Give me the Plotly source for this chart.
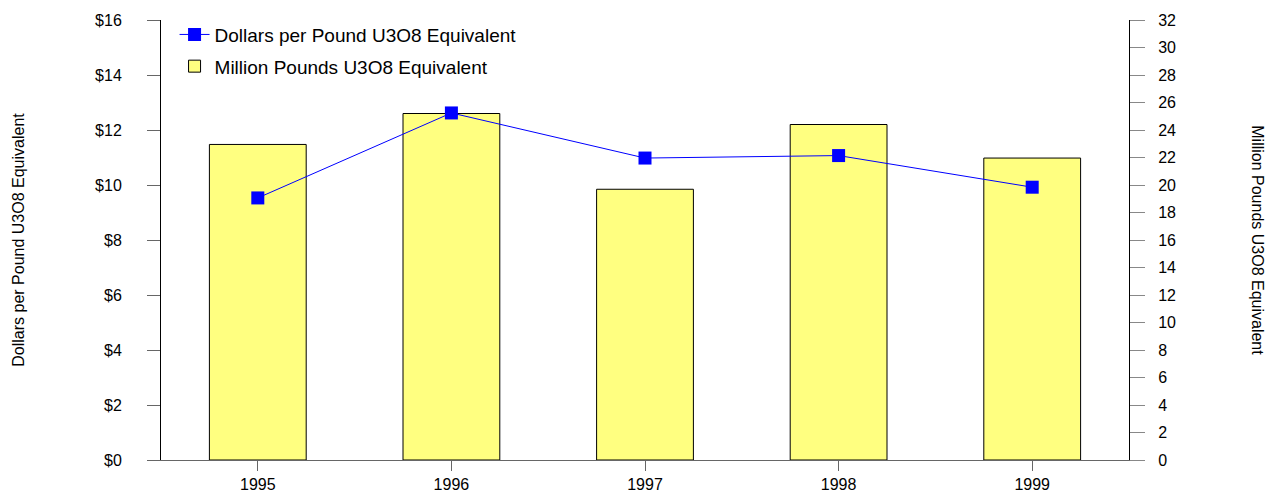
import plotly.graph_objects as go

# data
years = ["1995", "1996", "1997", "1998", "1999"]
dollars_per_pound = [9.53, 12.62, 10.98, 11.07, 9.92]
million_pounds = [22.95, 25.2, 19.69, 24.4, 21.96]

left_ticks = [0, 2, 4, 6, 8, 10, 12, 14, 16]
left_labels = ["$" + str(v) for v in left_ticks]
right_ticks = list(range(0, 33, 2))

FONT = "Liberation Sans, Arial, sans-serif"

bars = go.Bar(x=years, y=million_pounds,
              name="Million Pounds U3O8 Equivalent",
              marker_color="#FFFF80",
              marker_line_color="black", marker_line_width=1,
              width=0.5, yaxis="y", legendrank=2, legendgroup="b")

line = go.Scatter(x=years, y=dollars_per_pound,
                  name="Dollars per Pound U3O8 Equivalent",
                  mode="lines+markers",
                  line=dict(color="#0000FF", width=1),
                  marker=dict(symbol="square", size=13, color="#0000FF"),
                  yaxis="y2", legendrank=1, legendgroup="a")

# page body has an 8px margin, so the figure is 8px smaller and shifted
layout = go.Layout(
    width=1265, height=488,
    margin=dict(l=153, r=144, t=8, b=36),
    paper_bgcolor="white", plot_bgcolor="white",
    font=dict(family=FONT, size=16, color="black"),
    showlegend=True,
    legend=dict(x=0.014, y=1.01, xanchor="left", yanchor="top",
                font=dict(size=19), bgcolor="rgba(0,0,0,0)",
                tracegroupgap=4, itemwidth=30),
    xaxis=dict(range=[-0.5, 4.5], showline=True, linecolor="#666666",
               ticks="outside", ticklen=10, tickcolor="#666666",
               showgrid=False, tickfont=dict(size=16), automargin=False),
    yaxis=dict(side="right", range=[0, 32], tickvals=right_ticks,
               showline=True, linecolor="black", linewidth=1,
               ticks="outside", ticklen=15, tickcolor="#888888",
               showgrid=False, zeroline=False, ticklabelstandoff=10,
               tickfont=dict(size=16), automargin=False),
    yaxis2=dict(side="left", overlaying="y", range=[0, 16],
                tickvals=left_ticks, ticktext=left_labels,
                showline=True, linecolor="black", linewidth=1,
                ticks="outside", ticklen=13, tickcolor="#666666",
                showgrid=False, zeroline=False, ticklabelstandoff=22,
                tickfont=dict(size=16), automargin=False),
    annotations=[
        dict(text="Dollars per Pound U3O8 Equivalent", textangle=-90,
             xref="paper", yref="paper", x=-0.148, y=0.5,
             xanchor="center", yanchor="middle", showarrow=False,
             font=dict(size=16)),
        dict(text="Million Pounds U3O8 Equivalent", textangle=90,
             xref="paper", yref="paper", x=1.133, y=0.5,
             xanchor="center", yanchor="middle", showarrow=False,
             font=dict(size=16)),
    ],
)

fig = go.Figure(data=[bars, line], layout=layout)
fig.write_html("out.html")
